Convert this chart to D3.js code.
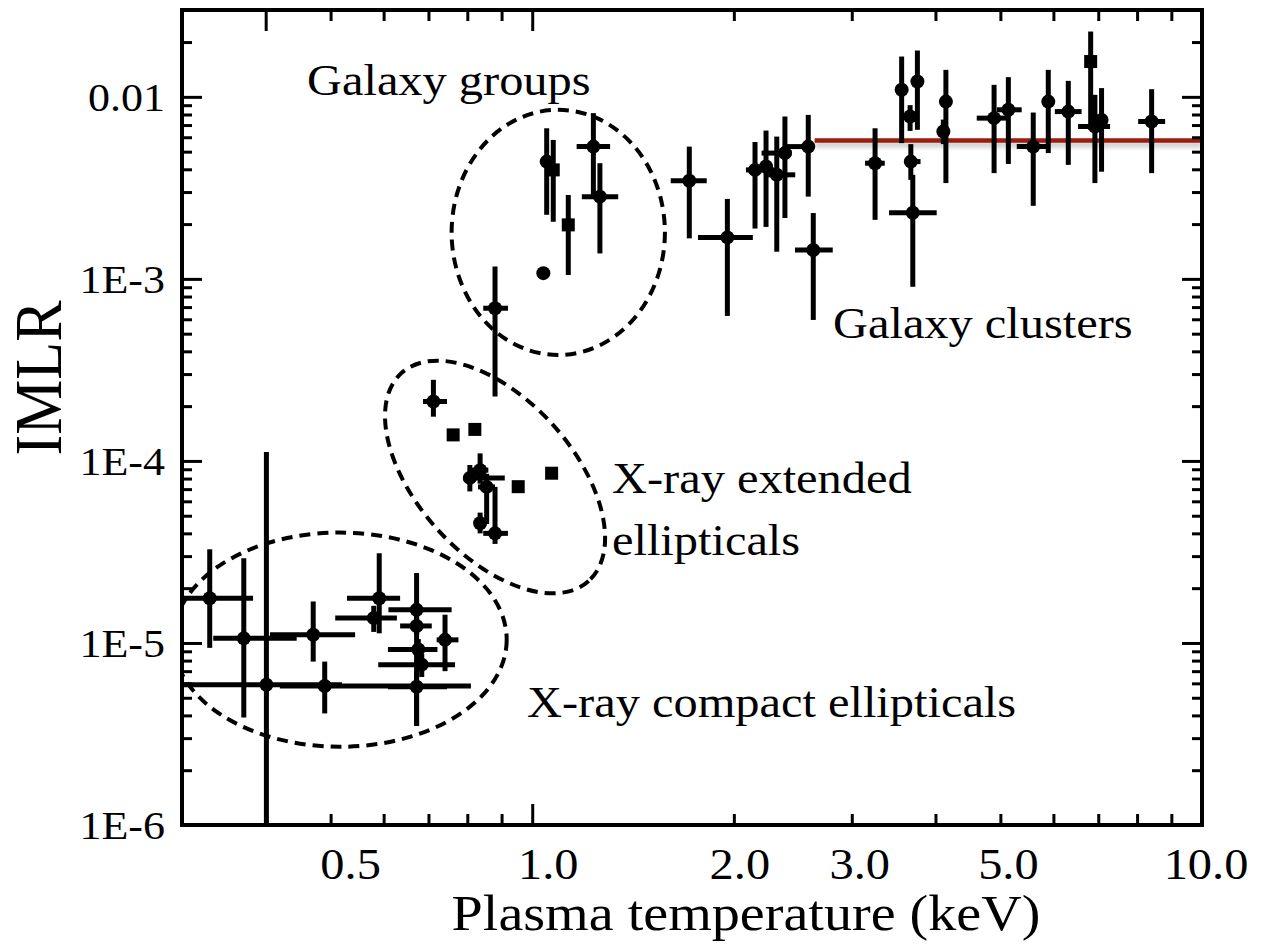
<!DOCTYPE html>
<html>
<head>
<meta charset="utf-8">
<script src="https://cdn.jsdelivr.net/npm/d3@7"></script>
<style>
  html, body { margin: 0; padding: 0; background: #fff; }
  svg { display: block; }
</style>
</head>
<body>
<script>
// Each row: [T (keV), T low, T high, IMLR, IMLR low, IMLR high]; null = no bar
const compactEllipticals = [
  [0.330, 0.300, 0.383, 1.76e-5, 9.4e-6, 3.27e-5],
  [0.371, 0.334, 0.445, 1.06e-5, 3.9e-6, 2.92e-5],
  [0.401, 0.290, 0.520, 5.9e-6, 9.0e-7, 1.12e-4],
  [0.471, 0.406, 0.544, 1.11e-5, 7.9e-6, 1.69e-5],
  [0.490, 0.420, 0.810, 5.8e-6, 4.1e-6, 7.9e-6],
  [0.591, 0.529, 0.635, 1.76e-5, 1.13e-5, 3.11e-5],
  [0.580, 0.508, 0.628, 1.37e-5, 1.15e-5, 1.60e-5],
  [0.672, 0.610, 0.758, 1.52e-5, 3.5e-6, 2.42e-5],
  [0.672, 0.635, 0.708, 1.24e-5, 1.10e-5, 1.40e-5],
  [0.741, 0.720, 0.776, 1.04e-5, 7.0e-6, 1.43e-5],
  [0.676, 0.609, 0.722, 9.2e-6, 8.0e-6, 1.05e-5],
  [0.684, 0.589, 0.767, 7.6e-6, 6.5e-6, 8.7e-6],
  [0.672, 0.609, 0.746, 5.75e-6, 3.5e-6, 7.0e-6]
];

const extendedEllipticals = [
  [0.712, 0.687, 0.746, 2.12e-4, 1.75e-4, 2.79e-4],
  [0.762, null, null, 1.39e-4, null, null],
  [0.821, null, null, 1.49e-4, null, null],
  [0.953, null, null, 7.22e-5, null, null],
  [1.069, null, null, 8.56e-5, null, null],
  [0.836, 0.810, 0.860, 8.9e-5, 7.5e-5, 1.10e-4],
  [0.807, 0.789, 0.910, 8.07e-5, 6.8e-5, 9.5e-5],
  [0.855, 0.830, 0.880, 7.2e-5, 4.5e-5, 8.5e-5],
  [0.836, null, null, 4.55e-5, 4.0e-5, 5.2e-5],
  [0.880, 0.845, 0.920, 4.0e-5, 3.5e-5, 7.2e-5],
  [0.880, 0.845, 0.920, 6.9e-4, 2.26e-4, 1.17e-3]
];

const galaxyGroups = [
  [1.039, null, null, 1.075e-3, null, null],
  [1.051, null, null, 4.41e-3, 2.25e-3, 6.72e-3],
  [1.075, null, null, 3.97e-3, 2.06e-3, 5.80e-3],
  [1.132, null, null, 1.98e-3, 1.05e-3, 2.89e-3],
  [1.234, 1.165, 1.307, 5.33e-3, 2.89e-3, 8.14e-3],
  [1.262, 1.186, 1.344, 2.83e-3, 1.38e-3, 4.32e-3]
];

const galaxyClusters = [
  [1.716, 1.610, 1.822, 3.46e-3, 1.67e-3, 5.33e-3],
  [1.956, 1.768, 2.135, 1.69e-3, 6.26e-4, 2.75e-3],
  [2.151, 2.085, 2.300, 3.97e-3, 1.89e-3, 5.65e-3],
  [2.234, null, null, 4.14e-3, 1.93e-3, 6.53e-3],
  [2.318, 2.250, 2.470, 3.73e-3, 1.41e-3, 6.05e-3],
  [2.384, 2.200, 2.440, 4.91e-3, 2.16e-3, 7.80e-3],
  [2.583, 2.368, 2.625, 5.33e-3, 2.83e-3, 7.96e-3],
  [2.628, 2.468, 2.810, 1.44e-3, 5.95e-4, 2.30e-3],
  [3.250, 3.140, 3.360, 4.32e-3, 2.11e-3, 6.72e-3],
  [3.561, null, null, 1.093e-2, 5.57e-3, 1.665e-2],
  [3.759, null, null, 1.214e-2, 6.59e-3, 1.797e-2],
  [3.666, null, null, 7.80e-3, 6.5e-3, 9.0e-3],
  [3.675, 3.600, 3.800, 4.41e-3, 3.5e-3, 5.5e-3],
  [3.700, 3.410, 4.017, 2.31e-3, 9.05e-4, 3.73e-3],
  [4.146, null, null, 9.42e-3, 3.36e-3, 1.407e-2],
  [4.110, null, null, 6.45e-3, 5.5e-3, 7.5e-3],
  [4.893, 4.610, 5.110, 7.64e-3, 3.81e-3, 1.164e-2],
  [5.139, 4.940, 5.380, 8.49e-3, 4.28e-3, 1.283e-2],
  [5.598, 5.290, 5.930, 5.33e-3, 2.52e-3, 8.20e-3],
  [5.895, null, null, 9.42e-3, 4.91e-3, 1.407e-2],
  [6.315, 6.030, 6.610, 8.30e-3, 4.23e-3, 1.224e-2],
  [6.820, null, null, 1.563e-2, 6.59e-3, 2.285e-2],
  [6.920, 6.530, 7.290, 6.87e-3, 3.36e-3, 1.026e-2],
  [7.080, null, null, 7.47e-3, 3.88e-3, 1.117e-2],
  [8.410, 8.030, 8.810, 7.32e-3, 3.81e-3, 1.102e-2]
];

// rows plotted with a square symbol instead of a dot
const extendedSquareRows = [1, 2, 3, 4];
const groupSquareRows = [2, 3];
const clusterSquareRows = [21];

// mean cluster IMLR level and the temperature span it is drawn over
const clusterMeanIMLR = 5.75e-3;
const clusterMeanSpan = [2.64, 10];

// population outlines: [T min, T max, IMLR min, IMLR max]
const groupOutline = [0.758, 1.578, 3.82e-4, 8.49e-3];
const compactOutline = [0.291, 0.916, 2.69e-6, 4.04e-5];
// tilted outline: major-axis end points [T, IMLR] and minor/major ratio
const extendedOutlineAxis = [[0.638, 3.04e-4], [1.214, 2.19e-5]];
const extendedOutlineRatio = 0.557;

const xTickValues = [0.5, 1, 2, 3, 5, 10];
const xTickLabels = ["0.5", "1.0", "2.0", "3.0", "5.0", "10.0"];
const xMajorTicks = [0.4, 1];
const yTickValues = [1e-6, 1e-5, 1e-4, 1e-3, 1e-2];
const yTickLabels = ["1E-6", "1E-5", "1E-4", "1E-3", "0.01"];

// ---------------------------------------------------------------------
const W = 1272, H = 951;
const M = { left: 182, right: 1202, top: 10, bottom: 825 };
const FONT = "'Liberation Serif', 'Times New Roman', Times, serif";
const SX = 1.1; // glyphs are set slightly wide
// small horizontal nudges of the x tick labels
const xLabelNudge = [20, 16, 6, 8, 8, 4];

const x = d3.scaleLog().domain([0.3, 10]).range([M.left, M.right]);
const y = d3.scaleLog().domain([1e-6, 0.03]).range([M.bottom, M.top]);

const svg = d3.select("body").append("svg")
  .attr("width", W).attr("height", H)
  .attr("viewBox", `0 0 ${W} ${H}`);

svg.append("rect").attr("width", W).attr("height", H).attr("fill", "#fff");

const defs = svg.append("defs");
defs.append("clipPath").attr("id", "plot-clip")
  .append("rect")
  .attr("x", M.left).attr("y", M.top)
  .attr("width", M.right - M.left).attr("height", M.bottom - M.top);
const shadow = defs.append("filter").attr("id", "soft-shadow")
  .attr("filterUnits", "userSpaceOnUse")
  .attr("x", 0).attr("y", 0).attr("width", W).attr("height", H);
shadow.append("feDropShadow")
  .attr("dx", 0).attr("dy", 4).attr("stdDeviation", 2.5)
  .attr("flood-color", "#000").attr("flood-opacity", 0.25);

const plot = svg.append("g").attr("clip-path", "url(#plot-clip)");

// --- dashed population outlines ---
const dashStyle = sel => sel.attr("fill", "none").attr("stroke", "#000")
  .attr("stroke-width", 4).attr("stroke-dasharray", "11 7");

function boxEllipse(b) {
  const x0 = x(b[0]), x1 = x(b[1]), y0 = y(b[3]), y1 = y(b[2]);
  plot.append("ellipse")
    .attr("cx", (x0 + x1) / 2).attr("cy", (y0 + y1) / 2)
    .attr("rx", (x1 - x0) / 2).attr("ry", (y1 - y0) / 2)
    .call(dashStyle);
}
boxEllipse(groupOutline);
boxEllipse(compactOutline);
{
  const [p, q] = extendedOutlineAxis;
  const ax = x(p[0]), ay = y(p[1]), bx = x(q[0]), by = y(q[1]);
  const a = Math.hypot(bx - ax, by - ay) / 2;
  const ang = Math.atan2(by - ay, bx - ax) * 180 / Math.PI;
  plot.append("ellipse")
    .attr("cx", 0).attr("cy", 0)
    .attr("rx", a).attr("ry", a * extendedOutlineRatio)
    .attr("transform", `translate(${(ax + bx) / 2},${(ay + by) / 2}) rotate(${ang})`)
    .call(dashStyle);
}

// --- mean cluster level ---
plot.append("line")
  .attr("x1", x(clusterMeanSpan[0])).attr("x2", x(clusterMeanSpan[1]))
  .attr("y1", y(clusterMeanIMLR)).attr("y2", y(clusterMeanIMLR))
  .attr("stroke", "#9b1a0c").attr("stroke-width", 4.5)
  .attr("filter", "url(#soft-shadow)");

// --- data with error bars ---
function drawSet(rows, squares) {
  const g = plot.append("g");
  rows.forEach((r, i) => {
    const [t, tl, th, v, vl, vh] = r;
    const cx = x(t), cy = y(v);
    if (vl != null && vh != null) {
      g.append("line").attr("x1", cx).attr("x2", cx)
        .attr("y1", y(vl)).attr("y2", y(vh))
        .attr("stroke", "#000").attr("stroke-width", 5);
    }
    if (tl != null && th != null) {
      g.append("line").attr("x1", x(tl)).attr("x2", x(th))
        .attr("y1", cy).attr("y2", cy)
        .attr("stroke", "#000").attr("stroke-width", 5);
    }
    if (squares.includes(i)) {
      g.append("rect").attr("x", cx - 6.5).attr("y", cy - 6.5)
        .attr("width", 13).attr("height", 13).attr("fill", "#000");
    } else {
      g.append("circle").attr("cx", cx).attr("cy", cy).attr("r", 7).attr("fill", "#000");
    }
  });
}
drawSet(compactEllipticals, []);
drawSet(extendedEllipticals, extendedSquareRows);
drawSet(galaxyGroups, groupSquareRows);
drawSet(galaxyClusters, clusterSquareRows);

// --- axes frame with inward ticks ---
const frame = svg.append("g");
frame.append("rect")
  .attr("x", M.left).attr("y", M.top)
  .attr("width", M.right - M.left).attr("height", M.bottom - M.top)
  .attr("fill", "none").attr("stroke", "#000").attr("stroke-width", 4);

const xMinor = [];
[0.1, 1].forEach(d => { for (let k = 1; k <= 9; k++) { const v = +(k * d).toFixed(3); if (v > 0.3 && v < 10) xMinor.push(v); } });
const yAll = [];
[1e-6, 1e-5, 1e-4, 1e-3, 1e-2].forEach(d => { for (let k = 1; k <= 9; k++) { const v = k * d; if (v > 1e-6 * 0.999 && v < 0.03 * 0.999) yAll.push(v); } });

function tickAxis(axisFn, scale, values, size, transform) {
  frame.append("g").attr("transform", transform)
    .call(axisFn(scale).tickValues(values).tickSize(size).tickFormat(""))
    .call(g => g.select(".domain").remove())
    .call(g => g.selectAll("line").attr("stroke", "#000").attr("stroke-width", 3));
}
const xMinorOnly = xMinor.filter(v => !xMajorTicks.includes(v));
tickAxis(d3.axisBottom, x, xMinorOnly, -11, `translate(0,${M.bottom})`);
tickAxis(d3.axisBottom, x, xMajorTicks, -21, `translate(0,${M.bottom})`);
tickAxis(d3.axisTop, x, xMinorOnly, -11, `translate(0,${M.top})`);
tickAxis(d3.axisTop, x, xMajorTicks, -21, `translate(0,${M.top})`);
const yMinorOnly = yAll.filter(v => !yTickValues.includes(v));
tickAxis(d3.axisLeft, y, yMinorOnly, -10, `translate(${M.left},0)`);
tickAxis(d3.axisLeft, y, yTickValues, -20, `translate(${M.left},0)`);
tickAxis(d3.axisRight, y, yMinorOnly, -10, `translate(${M.right},0)`);
tickAxis(d3.axisRight, y, yTickValues, -20, `translate(${M.right},0)`);

// --- text ---
function label(px, py, str, size, anchor, rotate) {
  const g = svg.append("g")
    .attr("transform", `translate(${px},${py})` + (rotate ? ` rotate(${rotate})` : "") + ` scale(${rotate ? 1 : SX},${rotate ? SX : 1})`);
  return g.append("text").text(str)
    .attr("font-family", FONT).attr("font-size", size)
    .attr("text-anchor", anchor).attr("fill", "#000");
}

xTickValues.forEach((v, i) => label(x(v) + xLabelNudge[i], 879, xTickLabels[i], 44, "middle"));
yTickValues.forEach((v, i) => label(165, y(v) + 14, yTickLabels[i], 40, "end"));

label(746, 930, "Plasma temperature (keV)", 51, "middle");
label(61, 378, "IMLR", 62, "middle", -90);

label(307, 95, "Galaxy groups", 44, "start");
label(833, 338, "Galaxy clusters", 44, "start");
label(612, 493, "X-ray extended", 44, "start");
label(612, 555, "ellipticals", 44, "start");
label(527, 717, "X-ray compact ellipticals", 44, "start");
</script>
</body>
</html>
